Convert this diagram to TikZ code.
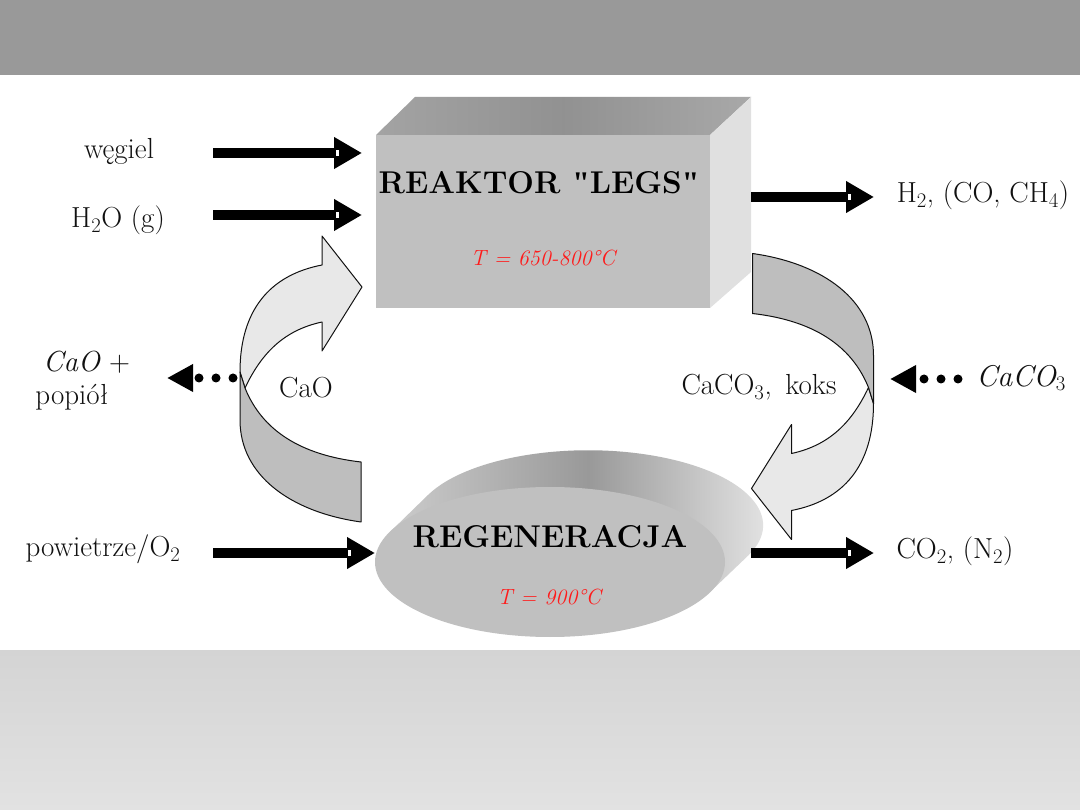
\documentclass[tikz,border=0pt]{standalone}
\usepackage{fontspec}
\newfontfamily\quotefont{Liberation Serif}
\usetikzlibrary{arrows.meta}
\definecolor{bandtop}{HTML}{999999}
\definecolor{bandlowA}{HTML}{D4D4D4}
\definecolor{bandlowB}{HTML}{E2E2E2}
\definecolor{facefront}{HTML}{C0C0C0}
\definecolor{faceside}{HTML}{E0E0E0}
\definecolor{loopdark}{HTML}{BEBEBE}
\definecolor{looplight}{HTML}{E8E8E8}
\definecolor{ink}{HTML}{111111}
\definecolor{hot}{HTML}{FF1A1A}
\tikzset{
  lbl/.style={inner sep=0pt,text=ink,font=\fontsize{29}{32}\selectfont},
  itlbl/.style={lbl,font=\fontsize{30}{32}\selectfont\itshape},
  headlbl/.style={inner sep=0pt,text=black,font=\fontsize{31.5}{34}\selectfont\bfseries},
  templbl/.style={inner sep=0pt,text=hot,font=\fontsize{22}{26}\selectfont\itshape},
  flow/.style={line width=10.5pt,black,-{Triangle[length=28pt,width=30pt]}},
  feed/.style={line width=9pt,black,line cap=round,dash pattern=on 0pt off 17pt,
    -{Triangle[length=26pt,width=26pt]}},
  notch/.style={fill=white,inner sep=0pt,minimum width=3pt,minimum height=6pt},
  loopedge/.style={draw=ink,line width=1pt,line join=round},
  recycle/.pic={
    % light arrow half, ending in the broad head
    \path[loopedge,fill=looplight] (322,236) -- (362,287) -- (322,351) -- (322,322)
      .. controls (285,330) and (262,352) .. (245,388) -- (240,372)
      .. controls (240,310) and (270,275) .. (322,265) -- cycle;
    % darker tail half
    \path[loopedge,fill=loopdark] (245,388)
      .. controls (262,430) and (300,455) .. (361,462) -- (361,522)
      .. controls (290,512) and (240,475) .. (240,420) -- (240,372) -- cycle;
  },
}
\begin{document}
\begin{tikzpicture}[x=1pt,y=-1pt]
\useasboundingbox (0,0) rectangle (1080,810);
\fill[white] (0,0) rectangle (1080,810);

% header and footer bands
\fill[bandtop] (0,0) rectangle (1080,75);
\shade[top color=bandlowA,bottom color=bandlowB] (0,650) rectangle (1080,810);

% reactor block
\shade[left color=black!36,right color=black!34,middle color=black!43]
  (376,135) -- (415,97) -- (751,97) -- (710,135) -- cycle;
\fill[faceside] (710,135) -- (751,97) -- (751,272) -- (710,308) -- cycle;
\fill[facefront] (376,135) rectangle (710,308);

% regeneration cylinder
\shade[left color=black!20,right color=black!8,middle color=black!40]
  (390,532) -- (428,495)
  arc[start angle=156.2,end angle=-23.8,x radius=175pt,y radius=75pt]
  -- (710,592) -- cycle;
\fill[facefront] (550,562) ellipse[x radius=175pt,y radius=75pt];

% circulating solids
\pic at (0,0) {recycle};
\begin{scope}[shift={(1113.5,775.5)},xscale=-1,yscale=-1]
  \pic[transform shape] at (0,0) {recycle};
\end{scope}

% block captions
\node[headlbl] (reactor) at (539,183) {REAKTOR {\quotefont"}LEGS{\quotefont"}};
\node[templbl] (reactorT) at (543,258) {T = 650-800°C};
\node[headlbl] (regen) at (550,537) {REGENERACJA};
\node[templbl] (regenT) at (549,597) {T = 900°C};

% stream labels
\node[lbl] (coal) at (119,151) {węgiel};
\node[lbl] (steam) at (118,220) {H$_2$O (g)};
\node[lbl] (gas) at (983,195) {H$_2$, (CO, CH$_4$)};
\node[lbl,anchor=west] (ash1) at (43,362) {\textit{CaO} +};
\node[lbl] (ash2) at (72,397) {popiół};
\node[lbl] (air) at (103,549) {powietrze/O$_2$};
\node[lbl] (lime) at (306,388) {CaO};
\node[lbl] (char) at (759,387) {CaCO$_3$,\, koks};
\node[itlbl] (stone) at (1021,378) {CaCO$_3$};
\node[lbl] (flue) at (955,551) {CO$_2$, (N$_2$)};

% stream end points
\coordinate (coalS) at (213,153);   \coordinate (coalE) at (362,153);
\coordinate (steamS) at (213,215);  \coordinate (steamE) at (362,215);
\coordinate (gasS) at (751,197);    \coordinate (gasE) at (874,197);
\coordinate (airS) at (213,553);    \coordinate (airE) at (375,553);
\coordinate (flueS) at (751,553);   \coordinate (flueE) at (874,553);
\coordinate (ashS) at (233,378);    \coordinate (ashE) at (167,378);
\coordinate (stoneS) at (958,379);  \coordinate (stoneE) at (890,379);

% main streams
\draw[flow] (coalS) -- (coalE);
\draw[flow] (steamS) -- (steamE);
\draw[flow] (gasS) -- (gasE);
\draw[flow] (airS) -- (airE);
\draw[flow] (flueS) -- (flueE);

% marks at the base of each arrow head
\node[notch] (n1) at (337,153) {};
\node[notch] (n2) at (337,215) {};
\node[notch] (n3) at (849,197) {};
\node[notch] (n4) at (349,553) {};
\node[notch] (n5) at (849,553) {};

% dotted feeds
\draw[feed] (ashS) -- (ashE);
\draw[feed] (stoneS) -- (stoneE);
\end{tikzpicture}
\end{document}
